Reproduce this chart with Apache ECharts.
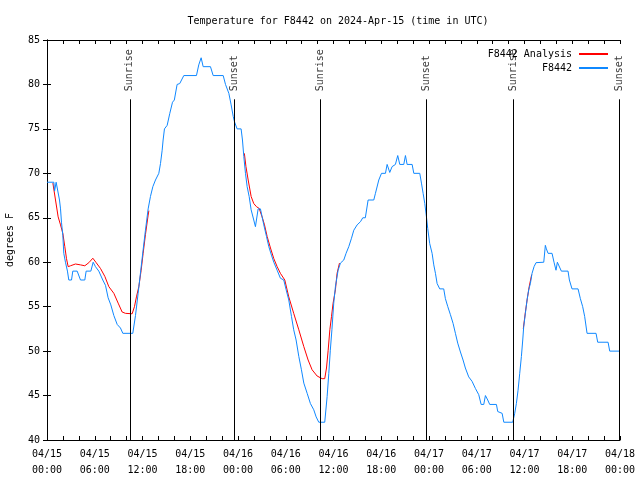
<!DOCTYPE html>
<html>
<head>
<meta charset="utf-8">
<script src="https://cdn.jsdelivr.net/npm/echarts@6/dist/echarts.min.js"></script>
<style>html,body{margin:0;padding:0;background:#fff}#c{width:640px;height:480px}</style>
</head>
<body>
<div id="c"></div>
<script>
// hours since 2024-04-15 00:00 UTC
var obsHours = [0.0,0.86,0.95,1.15,1.28,1.57,1.70,1.82,1.99,2.11,2.32,2.57,2.74,3.08,3.24,3.79,4.21,4.75,4.92,5.51,5.80,6.09,6.51,7.01,7.35,7.68,8.02,8.40,8.82,9.23,9.53,10.78,11.12,11.45,11.74,12.08,12.37,12.71,13.0,13.3,13.63,14.05,14.26,14.47,14.59,14.76,15.1,15.43,15.77,16.0,16.35,16.68,17.19,18.78,19.07,19.37,19.62,20.54,20.88,22.14,22.43,22.85,23.14,23.4,23.56,23.89,24.39,24.56,24.73,24.94,25.15,25.4,25.65,25.98,26.19,26.4,26.53,26.82,27.03,27.24,27.58,27.87,28.2,28.5,28.92,29.33,29.75,30.05,30.38,30.72,31.0,31.3,31.64,31.97,32.27,32.69,33.1,33.52,33.82,34.15,34.9,35.2,35.41,35.6,35.8,36.03,36.24,36.58,36.87,37.29,37.58,37.92,38.26,38.55,38.97,39.39,39.68,40.0,40.35,41.06,41.27,41.69,42.03,42.53,42.74,43.07,43.36,43.78,44.07,44.33,44.83,45.04,45.25,45.88,46.09,46.84,47.05,47.26,47.47,47.68,47.84,48.09,48.39,48.6,48.81,49.02,49.35,49.85,50.06,50.36,50.69,51.03,51.32,51.61,51.95,52.28,52.57,52.99,53.41,53.83,54.25,54.55,54.88,55.09,55.38,55.63,56.47,56.64,57.19,57.4,58.52,58.77,58.98,59.19,59.4,59.61,59.78,59.9,60.11,60.32,60.53,60.74,60.95,61.2,61.45,61.58,62.42,62.62,62.75,62.96,63.46,63.71,63.96,64.13,64.38,64.63,65.47,65.64,65.97,66.73,67.02,67.31,67.56,67.86,68.99,69.2,70.5,70.71,72.0];
var obsTemp = [69,69,68,69,69,67,66,64.5,63,61,60,59,58,58,59,59,58,58,59,59,60,59.5,59,58,57.4,56,55.2,54,53,52.6,52,52,54,56.5,58.75,61.4,63.6,66,67.4,68.5,69.25,70,71.1,72.6,73.75,75,75.4,76.75,78,78.25,80,80.1,81,81,82.2,83,82,82,81,81,80,79,77.7,76.4,75.8,75,75,73.75,71.9,70,68.5,67.4,65.9,64.75,64,64,66,66,65.1,64.2,62.9,61.75,60.8,60,59.1,58.2,58,56.9,55.75,53.9,52.4,51.25,49.4,47.9,46.4,45.25,44.1,43.4,42.6,42,42,44.9,47.5,50.1,52.4,55.4,57.25,59.1,59.9,60.25,61,61.75,62.7,63.6,64.2,64.56,65,65,67,67,67.75,69.25,70,70,71,70.1,70.75,71,72,71,71,72,71,71,70,70,68.9,67.75,66.6,65.1,63.8,62.1,61,59.7,58.75,57.6,57,57,55.9,55,54.1,53.1,52,50.9,49.9,49,48.1,47.1,46.6,45.8,45.1,44,44,45,44.5,44,44,43.2,43,42,42,43,44.1,45.6,47.5,49.4,51.25,52.75,54.25,55.75,56.9,57.6,58.75,59.5,59.95,60,60,61.9,61.5,61,61,60,59.1,60,60,59,59,58,57,57,55.9,55,53.9,52,52,51,51,50,50];

// analysis (null = gap)
var anaHours = [0.74,1.07,1.4,1.70,1.99,2.24,2.45,2.66,2.95,3.58,4.21,4.75,5.26,5.76,6.18,6.72,7.27,7.77,8.40,8.94,9.44,9.86,10.70,10.99,11.24,11.54,11.83,12.08,12.37,12.71,12.8,
  18,
  24.8,25.0,25.28,25.65,25.98,26.32,26.66,27.03,27.33,27.66,28.08,28.5,28.92,29.33,29.88,30.38,31.0,31.64,32.27,32.81,33.31,33.94,34.57,34.9,35.12,35.33,35.54,35.75,35.95,36.24,36.45,36.75,
  48,
  59.85,60.1,60.35,60.6,60.9];
var anaTemp = [68.9,67,65.1,64.2,63.25,61.75,60.4,59.5,59.6,59.8,59.7,59.6,59.95,60.45,59.95,59.3,58.4,57.25,56.5,55.4,54.4,54.25,54.2,55,56.1,57.25,59.1,61,63.1,65.3,65.8,
  null,
  72.25,70.75,69.25,67.4,66.6,66.25,66.05,65.1,64.2,62.9,61.6,60.4,59.5,58.75,58,56.1,54.25,52.4,50.5,49,47.9,47.2,46.9,46.9,48.1,50.1,52.4,53.9,55.4,56.9,58.75,59.9,
  null,
  52.5,54.3,55.9,57.3,58.6];

var sunHours = [10.4, 23.56, 34.36, 47.68, 58.55, 71.9];
var sunNames = ['Sunrise','Sunset','Sunrise','Sunset','Sunrise','Sunset'];
var sunLineTop = 78.33;

var xTickLabels = ['04/15\n00:00','04/15\n06:00','04/15\n12:00','04/15\n18:00','04/16\n00:00','04/16\n06:00','04/16\n12:00','04/16\n18:00','04/17\n00:00','04/17\n06:00','04/17\n12:00','04/17\n18:00','04/18\n00:00'];

var FONT = 'DejaVu Sans Mono';
function zip(a, b) { return a.map(function (v, i) { return [v, b[i]]; }); }

var chart = echarts.init(document.getElementById('c'), null, {renderer: 'canvas'});
var axisCommon = {
  axisLine: {show: true, lineStyle: {color: '#000', width: 1}},
  axisTick: {show: true, inside: true, length: 4, lineStyle: {color: '#000'}},
  splitLine: {show: false}
};
chart.setOption({
  animation: false,
  backgroundColor: '#fff',
  title: {
    text: 'Temperature for F8442 on 2024-Apr-15 (time in UTC)',
    left: 333, top: 11, textAlign: 'center',
    textStyle: {fontFamily: FONT, fontSize: 10, fontWeight: 'normal', color: '#000'}
  },
  legend: {
    data: ['F8442 Analysis', 'F8442'],
    orient: 'vertical', right: 26, top: 44, align: 'right',
    itemWidth: 29, itemHeight: 10, itemGap: 4,
    itemStyle: {opacity: 0},
    textStyle: {fontFamily: FONT, fontSize: 10, color: '#000', padding: [0, 2, 0, 0]}
  },
  grid: {left: 47, right: 20, top: 40, bottom: 40, containLabel: false, outerBoundsMode: 'none'},
  xAxis: [
    Object.assign({}, axisCommon, {
      type: 'value', min: 0, max: 72, interval: 6, position: 'bottom',
      minorTick: {show: true, splitNumber: 3, length: 4, lineStyle: {color: '#000'}},
      axisLabel: {fontFamily: FONT, fontSize: 10, color: '#000', lineHeight: 16, margin: 6,
        formatter: function (v) { return xTickLabels[Math.round(v / 6)]; }}
    }),
    Object.assign({}, axisCommon, {
      type: 'value', min: 0, max: 72, interval: 6, position: 'top',
      minorTick: {show: true, splitNumber: 3, length: 4, lineStyle: {color: '#000'}},
      axisLabel: {show: false}
    })
  ],
  yAxis: [
    Object.assign({}, axisCommon, {
      type: 'value', min: 40, max: 85, interval: 5, position: 'left',
      name: 'degrees F', nameLocation: 'middle', nameGap: 32, nameRotate: 90,
      nameTextStyle: {fontFamily: FONT, fontSize: 10, color: '#000'},
      axisLabel: {fontFamily: FONT, fontSize: 10, color: '#000', margin: 7}
    }),
    Object.assign({}, axisCommon, {
      type: 'value', min: 40, max: 85, interval: 5, position: 'right',
      axisLabel: {show: false}
    })
  ],
  series: [
    {
      name: 'sun', type: 'scatter', symbolSize: 0, silent: true,
      data: sunHours.map(function (h) { return [h, sunLineTop]; }),
      label: {show: true, rotate: 90, position: 'top', distance: 7, align: 'left', verticalAlign: 'middle',
        offset: [1, 0],
        fontFamily: FONT, fontSize: 10, color: '#000',
        formatter: function (p) { return sunNames[p.dataIndex]; }},
      markLine: {
        silent: true, symbol: ['none', 'none'], animation: false,
        label: {show: false},
        lineStyle: {color: '#000', width: 1, type: 'solid'},
        data: sunHours.map(function (h) { return [{coord: [h, 40]}, {coord: [h, sunLineTop]}]; })
      }
    },
    {
      name: 'F8442 Analysis', type: 'line', showSymbol: false, symbol: 'none',
      connectNulls: false,
      lineStyle: {color: '#ff0000', width: 1}, itemStyle: {color: '#ff0000'},
      data: zip(anaHours, anaTemp)
    },
    {
      name: 'F8442', type: 'line', showSymbol: false, symbol: 'none',
      lineStyle: {color: '#0f88ff', width: 1}, itemStyle: {color: '#0f88ff'},
      data: zip(obsHours, obsTemp)
    }
  ]
});
</script>
</body>
</html>
